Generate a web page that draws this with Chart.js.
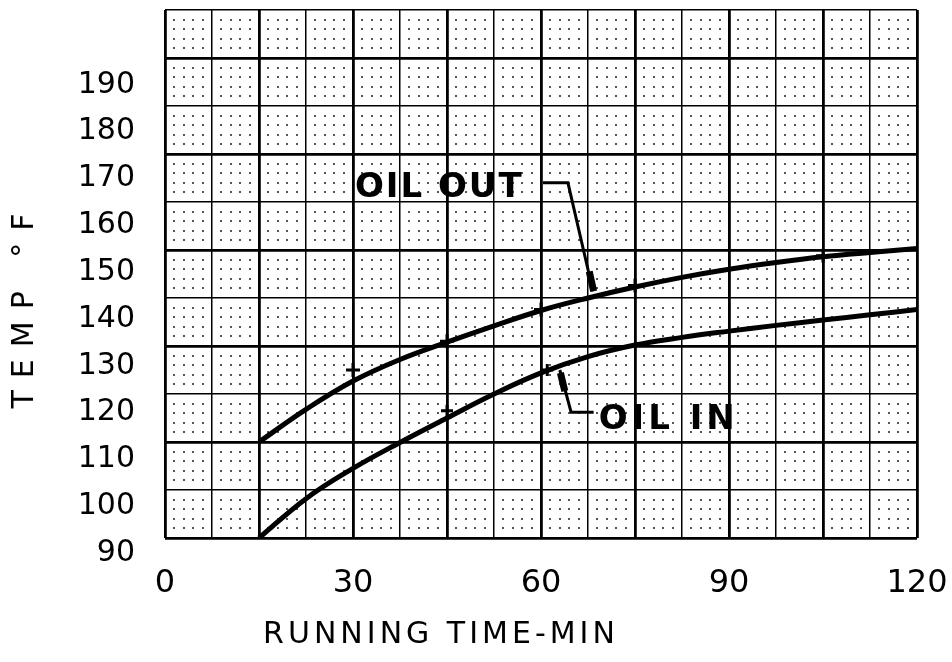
<!DOCTYPE html>
<html>
<head>
<meta charset="utf-8">
<script src="https://cdn.jsdelivr.net/npm/chart.js@4.4.1/dist/chart.umd.min.js"></script>
<style>
  html, body { margin: 0; padding: 0; background: #fff; }
  #wrap { width: 952px; height: 662px; }
</style>
</head>
<body>
<div id="wrap"><canvas id="tempChart"></canvas></div>
<script>
const runTime = [15, 22.5, 30, 37.5, 45, 52.5, 60, 67.5, 75, 82.5, 90, 97.5, 105, 112.5, 120]
const oilOut = [110, 116.8, 122.7, 127.2, 130.8, 134.2, 137.4, 140, 142.3, 144.3, 146, 147.4, 148.6, 149.5, 150.3]
const oilIn = [90, 98.2, 104.5, 109.9, 115, 120, 124.4, 127.8, 130.2, 131.8, 133.1, 134.3, 135.4, 136.5, 137.6]

// small hand marks sitting on the curves
const outMarkX = [30, 45, 60, 75, 105]
const outMarkY = [125, 131, 137.6, 142.6, 148.8]
const inMarkX = [45, 61]
const inMarkY = [116.5, 125]

const xTicks = [0, 30, 60, 90, 120]
const yTicks = [90, 100, 110, 120, 130, 140, 150, 160, 170, 180, 190]

const thin = 'DejaVu Sans'
const weight = 'normal'

const toXY = (xs, ys) => xs.map((x, i) => ({ x: x, y: ys[i] }))

const range = (a, b, step) => {
    let out = []
    for (let v = a; v <= b + 1e-9; v += step) out.push(+v.toFixed(3))
    return out
}

// dotted fine grid between the ruled lines
const dotsPlugin = {
    id: 'dots',
    beforeDatasetsDraw(chart) {
        const { ctx, scales } = chart
        ctx.save()
        ctx.fillStyle = '#555'
        for (let i = 0; i <= 80; i++) {
            if (i % 5 === 0) continue
            const px = scales.x.getPixelForValue(i * 1.5)
            for (let j = 0; j <= 55; j++) {
                if (j % 5 === 0) continue
                const py = scales.y.getPixelForValue(90 + j * 2)
                ctx.fillRect(Math.round(px) - 1, Math.round(py) - 1, 2, 2)
            }
        }
        ctx.restore()
    }
}

// curve labels with their leader lines, plus the axis titles
const notesPlugin = {
    id: 'notes',
    afterDatasetsDraw(chart) {
        const { ctx, scales } = chart
        const X = v => scales.x.getPixelForValue(v)
        const Y = v => scales.y.getPixelForValue(v)
        const path = (pts, w) => {
            ctx.lineWidth = w
            ctx.beginPath()
            pts.forEach((p, i) => i ? ctx.lineTo(X(p[0]), Y(p[1])) : ctx.moveTo(X(p[0]), Y(p[1])))
            ctx.stroke()
        }
        ctx.save()
        ctx.strokeStyle = '#000'
        ctx.fillStyle = '#000'
        ctx.lineCap = 'butt'
        ctx.lineJoin = 'miter'

        path([[60.3, 164], [64.3, 164], [68.3, 141.4]], 3)
        path([[67.7, 145.5], [68.4, 141.4]], 7)
        path([[63.0, 125.0], [64.8, 116.2], [68.4, 116.2]], 3)
        path([[63.1, 124.4], [63.8, 120.6]], 7)

        ctx.font = 'bold 34px "DejaVu Sans"'
        ctx.textBaseline = 'middle'
        ctx.textAlign = 'left'
        ctx.letterSpacing = '2px'
        ctx.fillText('OIL OUT', X(30.3), Y(162.8))
        ctx.letterSpacing = '4px'
        ctx.fillText('OIL IN', X(69.2), Y(114.6))

        ctx.font = weight + ' 30px "' + thin + '"'
        ctx.textAlign = 'center'
        ctx.letterSpacing = '4px'
        ctx.fillText('RUNNING TIME-MIN', 441, 635)
        ctx.translate(25, 311)
        ctx.rotate(-Math.PI / 2)
        ctx.letterSpacing = '12px'
        ctx.fillText('TEMP °F', 6, 0)
        ctx.restore()
    }
}

new Chart('tempChart', {
    type: 'line',
    data: {
        datasets: [
            { label: 'OIL OUT', data: toXY(runTime, oilOut), borderColor: '#000', borderWidth: 5,
              pointRadius: 0, tension: 0.4 },
            { label: 'OIL IN', data: toXY(runTime, oilIn), borderColor: '#000', borderWidth: 5,
              pointRadius: 0, tension: 0.4 },
            { label: 'out marks', data: toXY(outMarkX, outMarkY), showLine: false, pointStyle: 'cross',
              pointRadius: 7, borderWidth: 3, borderColor: '#000' },
            { label: 'in marks', data: toXY(inMarkX, inMarkY), showLine: false, pointStyle: 'cross',
              pointRadius: 6, borderWidth: 3, borderColor: '#000' }
        ]
    },
    options: {
        animation: false,
        responsive: true,
        maintainAspectRatio: false,
        devicePixelRatio: 1,
        layout: { padding: { top: 8, right: 35, left: 0, bottom: 0 } },
        plugins: { legend: { display: false }, tooltip: { enabled: false } },
        scales: {
            x: {
                type: 'linear', min: 0, max: 120,
                afterBuildTicks: s => { s.ticks = range(0, 120, 7.5).map(v => ({ value: v })) },
                afterFit: s => { s.height = 124; s.paddingLeft = 0; s.paddingRight = 0 },
                border: { display: false },
                grid: {
                    color: '#000', drawTicks: false,
                    lineWidth: c => (c.tick && c.tick.value % 15 === 0) ? 2.8 : 1.5
                },
                ticks: {
                    color: '#000', padding: 26, maxRotation: 0, autoSkip: false,
                    font: { family: thin, size: 32, weight: weight },
                    callback: v => xTicks.includes(v) ? String(v) : ''
                }
            },
            y: {
                type: 'linear', position: 'left', min: 90, max: 200,
                afterBuildTicks: s => { s.ticks = range(90, 200, 10).map(v => ({ value: v })) },
                afterFit: s => { s.width = 0; s.paddingTop = 0; s.paddingBottom = 0 },
                border: { display: false },
                grid: {
                    color: '#000', drawTicks: false,
                    lineWidth: c => (c.tick && (c.tick.value - 90) % 20 === 0) ? 2.8 : 1.5
                },
                ticks: { display: false }
            },
            // lettering on the original sheet sits a little below the ruled lines
            yl: {
                type: 'linear', position: 'left', min: 93.2, max: 206,
                afterBuildTicks: s => { s.ticks = yTicks.map(v => ({ value: v })) },
                afterFit: s => { s.width = 165; s.paddingTop = 0; s.paddingBottom = 0 },
                border: { display: false },
                grid: { display: false, drawTicks: false },
                ticks: {
                    color: '#000', padding: 30,
                    font: { family: thin, size: 30, weight: weight }
                }
            }
        }
    },
    plugins: [dotsPlugin, notesPlugin]
})
</script>
</body>
</html>
